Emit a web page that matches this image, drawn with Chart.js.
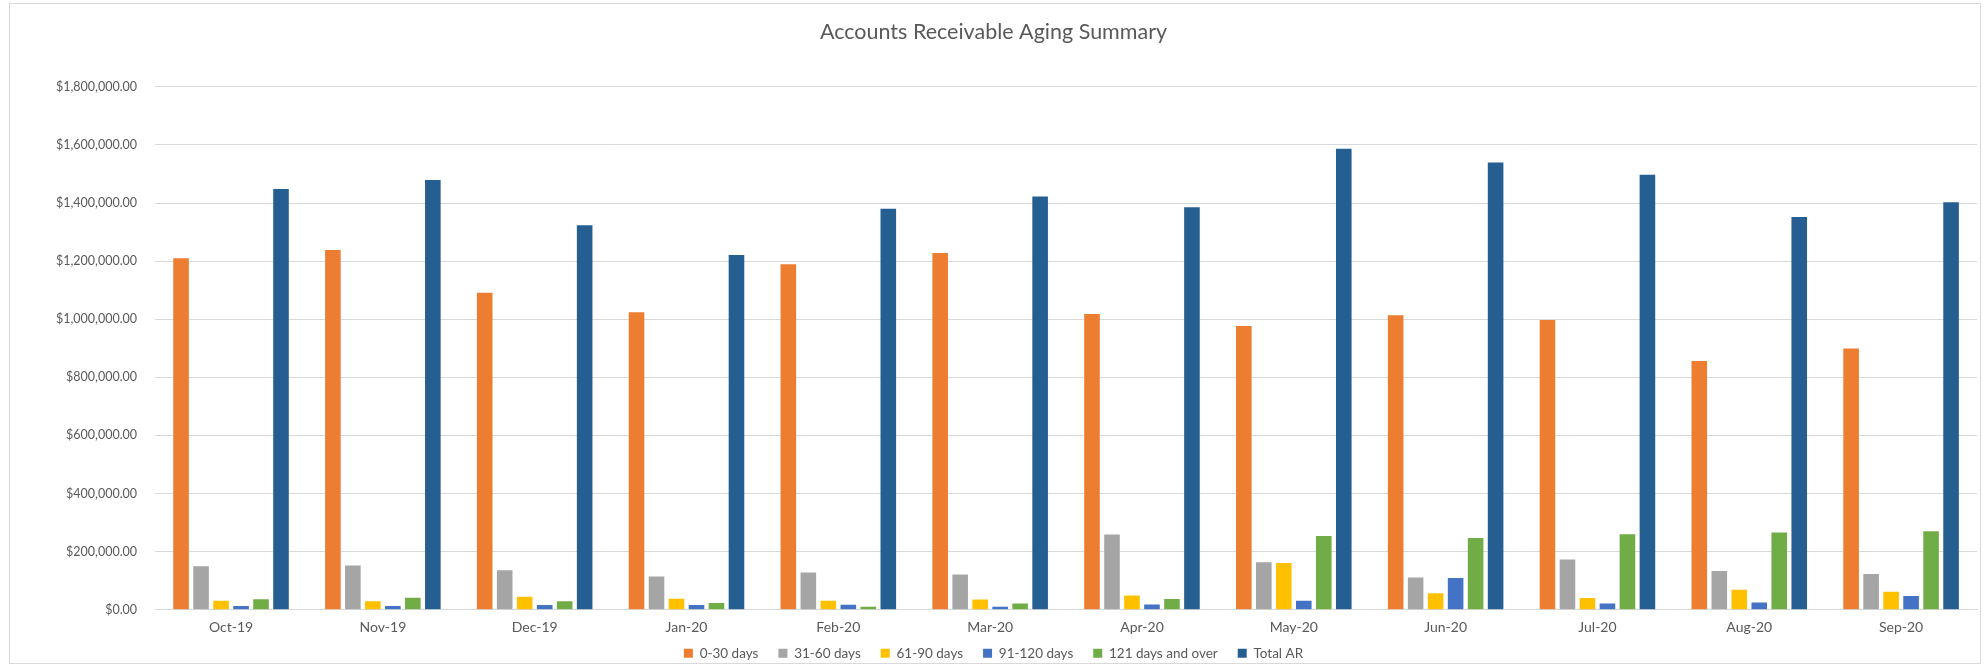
<!DOCTYPE html>
<html>
<head>
<meta charset="utf-8">
<script src="https://cdn.jsdelivr.net/npm/chart.js@4.4.1/dist/chart.umd.min.js"></script>
<style>
  html, body { margin: 0; padding: 0; background: #fff; }
  #wrap {
    position: absolute; left: 9px; top: 3px;
    width: 1972px; height: 661px;
    box-sizing: border-box; border: 1px solid #d9d9d9;
  }
</style>
</head>
<body>
<div id="wrap"><canvas id="c"></canvas></div>
<script>
// AR aging buckets per month
const months = ['Oct-19', 'Nov-19', 'Dec-19', 'Jan-20', 'Feb-20', 'Mar-20',
                'Apr-20', 'May-20', 'Jun-20', 'Jul-20', 'Aug-20', 'Sep-20'];

const days0to30   = [1210000, 1238000, 1091000, 1024000, 1189000, 1228000, 1018000, 977000, 1014000, 997000, 856000, 899000];
const days31to60  = [150000, 152000, 136000, 114000, 128000, 121000, 259000, 163000, 111000, 173000, 133000, 123000];
const days61to90  = [31000, 29000, 45000, 38000, 31000, 35000, 49000, 161000, 57000, 40000, 69000, 62000];
const days91to120 = [13000, 13000, 16000, 16000, 17000, 10000, 18000, 31000, 109000, 21000, 25000, 47000];
const days121plus = [36000, 41000, 29000, 23000, 10000, 21000, 37000, 254000, 247000, 260000, 266000, 270000];
const totalAR     = [1448000, 1479000, 1323000, 1221000, 1380000, 1422000, 1385000, 1587000, 1539000, 1497000, 1352000, 1403000];

const yTicks = [0, 200000, 400000, 600000, 800000, 1000000, 1200000, 1400000, 1600000, 1800000];

const FONT = 'Lato, "Open Sans", sans-serif';
const TXT = '#595959';

const series = [
  { label: '0-30 days', data: days0to30, colour: '#ED7D31' },
  { label: '31-60 days', data: days31to60, colour: '#A5A5A5' },
  { label: '61-90 days', data: days61to90, colour: '#FFC000' },
  { label: '91-120 days', data: days91to120, colour: '#4472C4' },
  { label: '121 days and over', data: days121plus, colour: '#70AD47' },
  { label: 'Total AR', data: totalAR, colour: '#255E91' },
];

const money = (v) => '$' + v.toLocaleString('en-US', { minimumFractionDigits: 2, maximumFractionDigits: 2 });

// Excel packs the legend tight under the month labels; nudge it up a bit
const nudgeLegend = {
  id: 'nudgeLegend',
  afterLayout(chart) {
    chart.legend.top -= 10;
    chart.legend.bottom -= 10;
  },
};

new Chart(document.getElementById('c'), {
  type: 'bar',
  data: {
    labels: months,
    datasets: series.map((s) => ({
      label: s.label,
      data: s.data,
      backgroundColor: s.colour,
      borderWidth: 0,
      categoryPercentage: 0.79,
      barPercentage: 0.78,
    })),
  },
  options: {
    responsive: true,
    maintainAspectRatio: false,
    animation: false,
    layout: { padding: { left: 0, right: 3, top: 0, bottom: -17 } },
    plugins: {
      title: {
        display: true,
        text: 'Accounts Receivable Aging Summary',
        color: TXT,
        font: { family: FONT, size: 21.5, weight: 'normal' },
        padding: { top: 15.5, bottom: 41.5 },
      },
      legend: {
        position: 'bottom',
        labels: {
          color: TXT,
          font: { family: FONT, size: 13.5 },
          boxWidth: 9,
          boxHeight: 9,
          padding: 20,
        },
      },
      tooltip: { enabled: false },
    },
    scales: {
      x: {
        grid: { display: false },
        border: { color: '#d9d9d9', width: 1 },
        ticks: { color: TXT, font: { family: FONT, size: 14 }, padding: 1 },
      },
      y: {
        min: 0,
        max: 1800000,
        afterBuildTicks: (axis) => { axis.ticks = yTicks.map((v) => ({ value: v })); },
        afterFit: (axis) => { axis.width += 28; },
        grid: { color: '#d9d9d9', drawTicks: false },
        border: { display: false },
        ticks: { color: TXT, font: { family: FONT, size: 12.5 }, padding: 18, callback: money },
      },
    },
  },
  plugins: [nudgeLegend],
});
</script>
</body>
</html>
